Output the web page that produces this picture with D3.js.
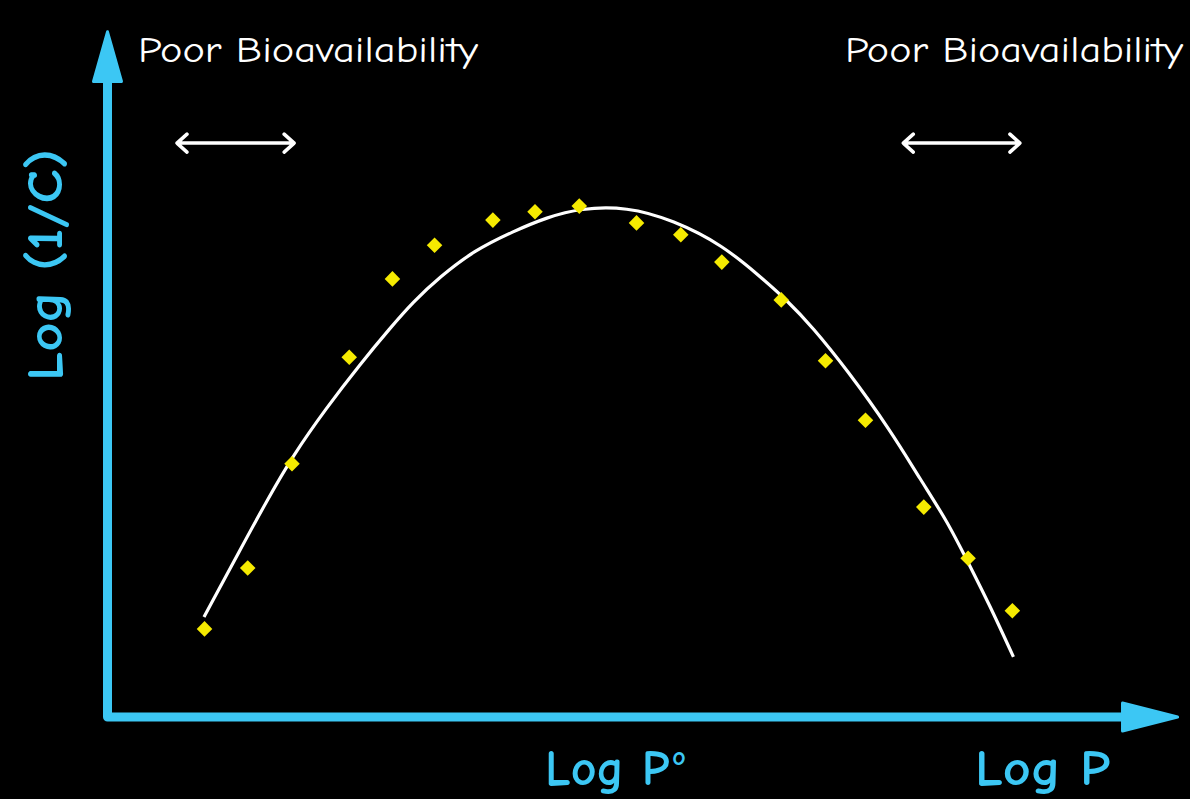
<!DOCTYPE html>
<html>
<head>
<meta charset="utf-8">
<script src="https://cdn.jsdelivr.net/npm/d3@7"></script>
<style>
  html, body { margin: 0; padding: 0; background: #000; }
  svg { display: block; }
</style>
</head>
<body>
<svg id="chart" width="1190" height="799"></svg>
<script>
// ---- data (arbitrary units, axes have no ticks) ----
const pointX = [9.4, 13.4, 17.5, 22.8, 26.8, 30.7, 36.1, 40.0, 44.1, 49.4, 53.5, 57.3, 62.8, 66.9, 70.6, 76.0, 80.1, 84.2];
const pointY = [12.3, 21.0, 35.9, 51.1, 62.3, 67.1, 70.7, 71.9, 72.7, 70.3, 68.6, 64.7, 59.3, 50.6, 42.1, 29.7, 22.4, 14.9];

const curveX = [9.35, 12.7, 15.2, 17.6, 20.7, 23.8, 26.6, 28.7, 31.2, 34.4, 38.0, 41.1, 44.2, 48.5, 52.8, 57.4, 60.8, 63.3, 65.7, 68.9, 72.9, 75.7, 78.2, 80.0, 82.1, 84.3];
const curveY = [14.0, 23.6, 30.7, 37.1, 43.9, 50.1, 55.3, 59.0, 62.6, 66.4, 69.1, 71.1, 72.4, 72.6, 70.7, 67.1, 62.7, 59.3, 55.4, 49.3, 40.7, 33.6, 27.6, 22.1, 15.7, 8.3];

const rangeArrowsStart = [6.85, 74.1];
const rangeArrowsEnd   = [17.7, 84.9];
const rangeArrowsY     = [81.7, 81.7];

const topLabels = ["Poor Bioavailability", "Poor Bioavailability"];
const yAxisLabel = "Log (1/C)";
const xLabelOptimum = "Log P";
const xLabelEnd = "Log P";

// ---- layout ----
const svg = d3.select("#chart");
const W = 1190, H = 799;
svg.append("rect").attr("width", W).attr("height", H).attr("fill", "#000");

const x = d3.scaleLinear().domain([0, 100]).range([103, 1183]);
const y = d3.scaleLinear().domain([0, 100]).range([715, 15]);

const axisColor = "#3cc7f4";
const font = "'Comic Sans MS', 'Comic Neue', 'Open Sans', sans-serif";

const ax0 = x(0) + 4.5;   // vertical axis line x
const ay0 = y(0) + 2;     // horizontal axis line y

// axes
svg.append("path")
  .attr("d", `M${ax0},${y(94.6)} L${ax0},${ay0} L${x(95)},${ay0}`)
  .attr("fill", "none").attr("stroke", axisColor).attr("stroke-width", 9)
  .attr("stroke-linejoin", "round").attr("stroke-linecap", "round");

// arrow heads
svg.append("path")
  .attr("d", `M${ax0},${y(97.6)} L${ax0 + 14},${y(90.5)} L${ax0 - 14},${y(90.5)} Z`)
  .attr("fill", axisColor).attr("stroke", axisColor).attr("stroke-width", 3).attr("stroke-linejoin", "round");
svg.append("path")
  .attr("d", `M${x(99.5)},${ay0} L${x(94.4)},${ay0 - 14} L${x(94.4)},${ay0 + 14} Z`)
  .attr("fill", axisColor).attr("stroke", axisColor).attr("stroke-width", 3).attr("stroke-linejoin", "round");

// fitted curve
const line = d3.line().x(d => x(d[0])).y(d => y(d[1])).curve(d3.curveBasis);
svg.append("path")
  .datum(d3.zip(curveX, curveY))
  .attr("d", line)
  .attr("fill", "none").attr("stroke", "#fff").attr("stroke-width", 3.2);

// data points (diamonds)
svg.selectAll("rect.pt")
  .data(d3.zip(pointX, pointY))
  .join("rect")
  .attr("class", "pt")
  .attr("x", -5.5).attr("y", -5.5).attr("width", 11).attr("height", 11)
  .attr("fill", "#f5ea00")
  .attr("transform", d => `translate(${x(d[0])},${y(d[1])}) rotate(45)`);

// double-headed range arrows
rangeArrowsStart.forEach((s, i) => {
  const x1 = x(s), x2 = x(rangeArrowsEnd[i]), yy = y(rangeArrowsY[i]);
  svg.append("path")
    .attr("d", `M${x1},${yy} L${x2},${yy} M${x1 + 10},${yy - 9} L${x1},${yy} L${x1 + 10},${yy + 9} M${x2 - 10},${yy - 9} L${x2},${yy} L${x2 - 10},${yy + 9}`)
    .attr("fill", "none").attr("stroke", "#fff").attr("stroke-width", 3.5)
    .attr("stroke-linecap", "round").attr("stroke-linejoin", "round");
});

// top labels
svg.append("text").text(topLabels[0])
  .attr("x", 138).attr("y", 62)
  .attr("textLength", 340).attr("lengthAdjust", "spacingAndGlyphs")
  .attr("font-family", font).attr("font-size", 36).attr("fill", "#fff");
svg.append("text").text(topLabels[1])
  .attr("x", 845).attr("y", 62)
  .attr("textLength", 338).attr("lengthAdjust", "spacingAndGlyphs")
  .attr("font-family", font).attr("font-size", 36).attr("fill", "#fff");

// y axis label
svg.append("text").text(yAxisLabel)
  .attr("transform", "translate(62,381) rotate(-90)")
  .attr("textLength", 232).attr("lengthAdjust", "spacingAndGlyphs")
  .attr("font-family", font).attr("font-size", 50).attr("font-weight", "bold").attr("fill", axisColor);

// x axis labels
const t1 = svg.append("text")
  .attr("x", 545).attr("y", 785)
  .attr("font-family", font).attr("font-size", 50).attr("font-weight", "bold").attr("fill", axisColor);
t1.append("tspan").text(xLabelOptimum);
t1.append("tspan").text("o").attr("font-size", 26).attr("dy", -20).attr("dx", 3);

svg.append("text").text(xLabelEnd)
  .attr("x", 975).attr("y", 785)
  .attr("textLength", 135).attr("lengthAdjust", "spacingAndGlyphs")
  .attr("font-family", font).attr("font-size", 50).attr("font-weight", "bold").attr("fill", axisColor);
</script>
</body>
</html>
